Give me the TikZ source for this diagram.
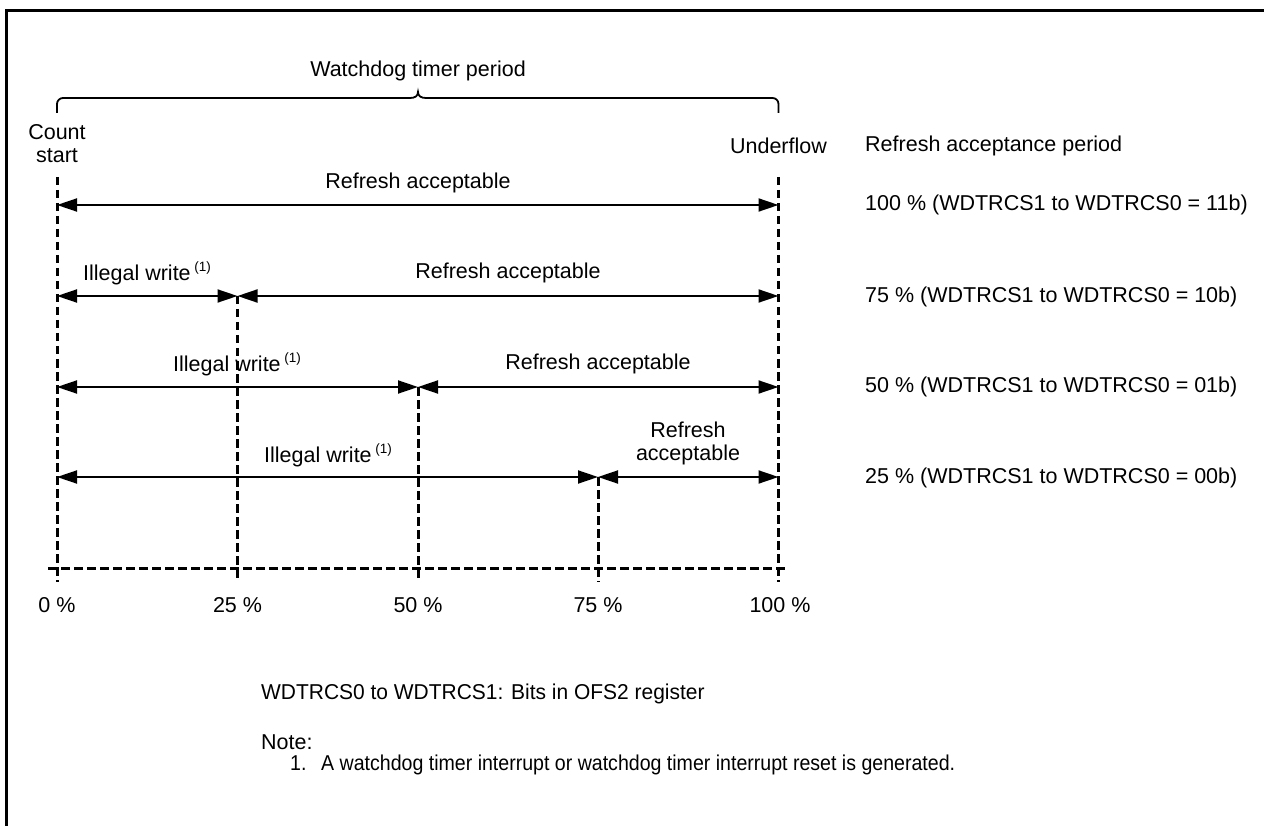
\documentclass[tikz,border=0pt]{standalone}
\usepackage{fontspec}
\setmainfont{Liberation Sans}
\usetikzlibrary{arrows.meta}
\newcommand{\fnref}{\,\raisebox{0.42em}{\fontsize{13.5}{13.5}\selectfont (1)}}
\tikzset{
  txt/.style={inner sep=0pt, font=\fontsize{21.5}{23}\selectfont},
  dashln/.style={line width=3pt, dash pattern=on 8.5pt off 4.5pt},
  span/.style={line width=1.9pt, {Triangle[length=20pt,width=13pt]}-{Triangle[length=20pt,width=13pt]}},
  frameln/.style={line width=3pt},
  bracel/.style={line width=1.8pt, rounded corners=6pt}
}
\begin{document}
\begin{tikzpicture}[x=1pt,y=-1pt]
\useasboundingbox (0,0) rectangle (1264,826);
% frame
\draw[frameln] (6,826) -- (6,11) -- (1264,11);

% tick coordinates
\coordinate (t0) at (57,177);
\coordinate (t100) at (778.5,177);
\coordinate (r2a) at (237.5,296);
\coordinate (r3a) at (418,387);
\coordinate (r4a) at (598,477);
\coordinate (b0) at (57,582);
\coordinate (b25) at (237.5,582);
\coordinate (b50) at (418,582);
\coordinate (b75) at (598,582);
\coordinate (b100) at (778.5,582);
\coordinate (hl) at (48,568);
\coordinate (hr) at (787,568);

% brace
\draw[bracel] (57,113) -- (57,98) -- (410,98);
\draw[line width=1.8pt] (410,98) .. controls (415,98) and (418,96) .. (418,92) .. controls (418,96) and (421,98) .. (426,98);
\draw[bracel] (426,98) -- (778.5,98) -- (778.5,113);
\node[txt] (title) at (418,71) {Watchdog timer period};

\node[txt, align=center] (cs) at (57,144) {Count\\start};
\node[txt] (uf) at (778.5,146) {Underflow};
\node[txt, anchor=west] (rap) at (865,146) {Refresh acceptance period};

% dashed verticals and horizontal axis
\draw[dashln] (t0) -- (b0);
\draw[dashln] (t100) -- (b100);
\draw[dashln] (r2a) -- (b25);
\draw[dashln] (r3a) -- (b50);
\draw[dashln] (r4a) -- (b75);
\draw[dashln] (hl) -- (hr);

% row 1
\coordinate (a1l) at (57,205);
\coordinate (a1r) at (778.5,205);
\draw[span] (a1l) -- (a1r);
\node[txt] (ra1) at (418,183) {Refresh acceptable};
\node[txt, anchor=west] (p1) at (865,205) {100 \% (WDTRCS1 to WDTRCS0 = 11b)};

% row 2
\coordinate (a2l) at (57,296);
\coordinate (a2r) at (778.5,296);
\draw[span] (a2l) -- (r2a);
\draw[span] (r2a) -- (a2r);
\node[txt] (iw2) at (147,273) {Illegal write\fnref};
\node[txt] (ra2) at (508,273) {Refresh acceptable};
\node[txt, anchor=west] (p2) at (865,297) {75 \% (WDTRCS1 to WDTRCS0 = 10b)};

% row 3
\coordinate (a3l) at (57,387);
\coordinate (a3r) at (778.5,387);
\draw[span] (a3l) -- (r3a);
\draw[span] (r3a) -- (a3r);
\node[txt] (iw3) at (237,364) {Illegal write\fnref};
\node[txt] (ra3) at (598,364) {Refresh acceptable};
\node[txt, anchor=west] (p3) at (865,387) {50 \% (WDTRCS1 to WDTRCS0 = 01b)};

% row 4
\coordinate (a4l) at (57,477);
\coordinate (a4r) at (778.5,477);
\draw[span] (a4l) -- (r4a);
\draw[span] (r4a) -- (a4r);
\node[txt] (iw4) at (328,455) {Illegal write\fnref};
\node[txt, align=center] (ra4) at (688,443) {Refresh\\acceptable};
\node[txt, anchor=west] (p4) at (865,478) {25 \% (WDTRCS1 to WDTRCS0 = 00b)};

% axis labels
\node[txt] (l0) at (57,605) {0 \%};
\node[txt] (l25) at (237.5,605) {25 \%};
\node[txt] (l50) at (418,605) {50 \%};
\node[txt] (l75) at (598,605) {75 \%};
\node[txt] (l100) at (780,605) {100 \%};

% notes
\node[txt, anchor=west] (bits) at (261,694) {\scalebox{0.975}[1]{WDTRCS0 to WDTRCS1: Bits in OFS2 register}};
\node[txt, anchor=west] (note) at (261,742) {Note:};
\node[txt, anchor=west] (n1) at (290,765) {\scalebox{0.91}[1]{1.\hspace{0.75em}A watchdog timer interrupt or watchdog timer interrupt reset is generated.}};
\end{tikzpicture}
\end{document}
